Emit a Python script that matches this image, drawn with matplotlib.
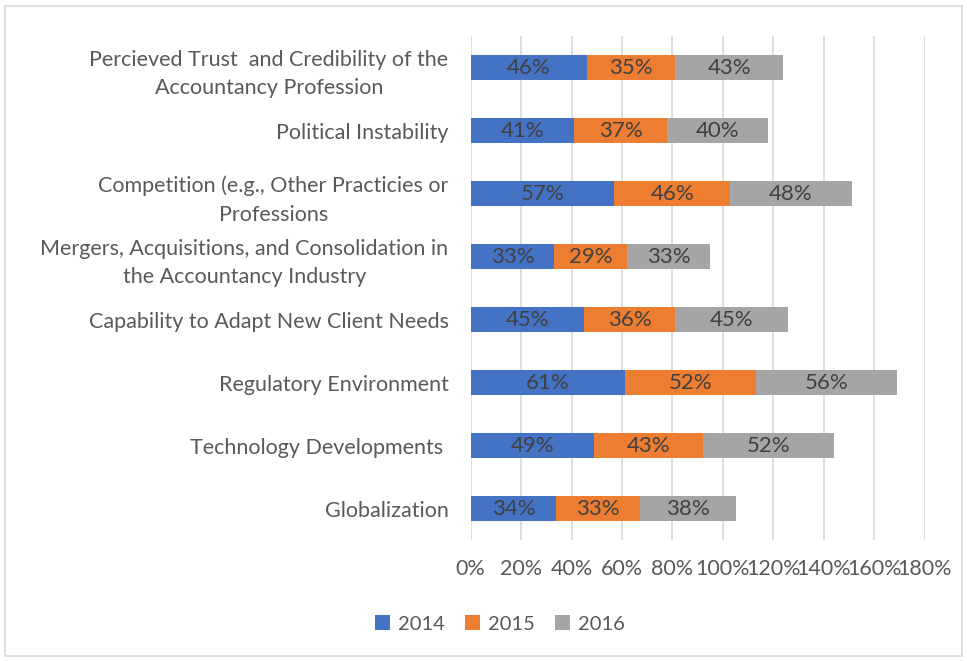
import matplotlib
matplotlib.use("Agg")
import matplotlib.pyplot as plt
from matplotlib.patches import Rectangle

plt.rcParams['font.family'] = ['Lato', 'DejaVu Sans']

categories = [
    "Globalization",
    "Technology Developments ",
    "Regulatory Environment",
    "Capability to Adapt New Client Needs",
    "Mergers, Acquisitions, and Consolidation in\nthe Accountancy Industry",
    "Competition (e.g., Other Practicies or\nProfessions",
    "Political Instability",
    "Percieved Trust  and Credibility of the\nAccountancy Profession",
]
v2014 = [34, 49, 61, 45, 33, 57, 41, 46]
v2015 = [33, 43, 52, 36, 29, 46, 37, 35]
v2016 = [38, 52, 56, 45, 33, 48, 40, 43]
series_names = ["2014", "2015", "2016"]
colors = ["#4472C4", "#ED7D31", "#A5A5A5"]
xticks = [0, 20, 40, 60, 80, 100, 120, 140, 160, 180]

fig = plt.figure(figsize=(9.67, 6.61), dpi=100)
ax = fig.add_axes([0.4868, 0.183, 0.9562 - 0.4868, 0.9455 - 0.183])

y = list(range(len(categories)))
left = [0] * len(categories)
for name, vals, c in zip(series_names, [v2014, v2015, v2016], colors):
    bars = ax.barh(y, vals, left=left, height=0.4, color=c, label=name, zorder=3)
    for b, v in zip(bars, vals):
        ax.text(b.get_x() + b.get_width() / 2, b.get_y() + b.get_height() / 2,
                f"{v}%", ha="center", va="center", fontsize=16, color="#404040", zorder=4)
    left = [l + v for l, v in zip(left, vals)]

ax.set_xlim(0, 180)
ax.set_ylim(-0.5, len(categories) - 0.5)
ax.set_xticks(xticks)
ax.set_xticklabels([f"{t}%" for t in xticks], fontsize=15.5, color="#595959")
ax.set_yticks(y)
ax.set_yticklabels(categories, fontsize=15.5, color="#595959", ha="right",
                   multialignment="center", linespacing=1.55)
ax.tick_params(axis="x", length=0, pad=14)
ax.tick_params(axis="y", length=0, pad=16)
ax.grid(axis="x", color="#D9D9D9", linewidth=1.2, zorder=0)
for s in ax.spines.values():
    s.set_visible(False)

leg = fig.legend(loc="center", bbox_to_anchor=(0.517, 0.056), ncol=3, frameon=False,
                 fontsize=14.5, handlelength=0.75, handleheight=0.75, columnspacing=1.0,
                 handletextpad=0.4)
for t in leg.get_texts():
    t.set_color("#595959")

fig.patches.append(Rectangle((0.005, 0.008), 0.99, 0.983, transform=fig.transFigure,
                             fill=False, edgecolor="#D9D9D9", linewidth=1.2))

fig.savefig("out.png", dpi=100)
